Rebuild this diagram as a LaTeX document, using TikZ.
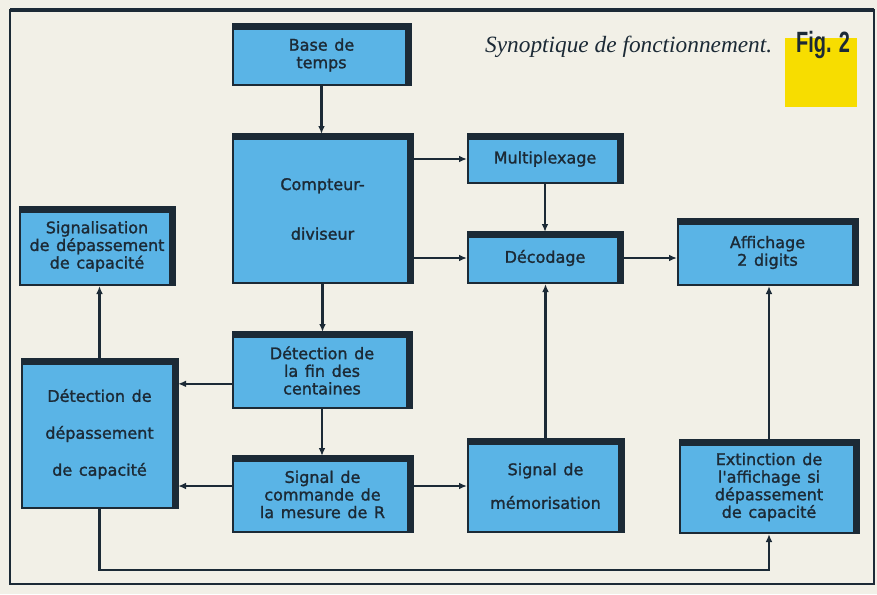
\documentclass[tikz,border=0pt]{standalone}
\usepackage{fontspec}
\setmainfont{DejaVu Sans}
\newfontfamily\blkfont{DejaVu Sans}[FakeBold=1.5,WordSpace=1.3]
\newfontfamily\titlefont{Liberation Serif}
\newfontfamily\figfont{Liberation Sans}
\usetikzlibrary{arrows.meta}
\definecolor{paper}{HTML}{F2F0E7}
\definecolor{boxblue}{HTML}{5AB4E6}
\definecolor{ink}{HTML}{1C2A36}
\definecolor{figyellow}{HTML}{F7DD00}

\begin{document}
\begin{tikzpicture}[x=0.75pt,y=-0.75pt,line width=1.7pt,>={Latex[length=6pt,width=5pt]},
  blk/.style={draw=ink,fill=boxblue,line width=1.5pt,text=ink,align=center,inner sep=0pt,
    font=\blkfont\fontsize{12}{13.2}\selectfont},
  sz/.style 2 args={minimum width=#1*0.75pt,minimum height=#2*0.75pt},
  link/.style={->,draw=ink}]
% ---------- paper and frame ----------
\fill[paper] (0,0) rectangle (877,594);
\draw[ink,line width=1.5pt] (10,10) rectangle (874,584);
\draw[ink,line width=3pt] (10,10) -- (874,10);
% ---------- caption ----------
\node[anchor=base west,inner sep=0pt,text=ink,font=\titlefont\itshape\fontsize{17.5}{17.5}\selectfont] (title) at (484,52) {Synoptique de fonctionnement.};
\node[fill=figyellow,inner sep=0pt,sz={72}{69}] (tag) at (821,72.5) {};
\node[anchor=base west,inner sep=0pt,text=ink,font=\figfont\bfseries\fontsize{22}{22}\selectfont] (fig) at (795,52) {\scalebox{0.68}[1]{Fig. 2}};
% ---------- blocks ----------
\node[blk,sz={177}{60}] (base) at (321.5,55) {Base de\\temps};
\node[blk,sz={179}{148}] (cpt) at (322.5,209) {Compteur-\\[24pt]diviseur};
\node[blk,sz={154}{48}] (mux) at (545,159) {Multiplexage};
\node[blk,sz={154}{50}] (dec) at (545,258) {Décodage};
\node[blk,sz={179}{65}] (aff) at (767.5,252.5) {Affichage\\2 digits};
\node[blk,sz={154}{77}] (sig) at (97,246.5) {Signalisation\\de dépassement\\de capacité};
\node[blk,sz={155}{148}] (dep) at (99.5,434) {Détection de\\[14.5pt]dépassement\\[14.5pt]de capacité};
\node[blk,sz={178}{75}] (fin) at (322,370.5) {Détection de\\la fin des\\centaines};
\node[blk,sz={179}{75}] (cmd) at (322.5,494.5) {Signal de\\commande de\\la mesure de R};
\node[blk,sz={155}{92}] (mem) at (545.5,486) {Signal de\\[12pt]mémorisation};
\node[blk,sz={178}{92}] (ext) at (769,487) {Extinction de\\l'affichage si\\dépassement\\de capacité};
% heavy top and right edges
\foreach \n in {base,cpt,mux,dec,aff,sig,dep,fin,cmd,mem,ext}
  \draw[ink,line width=5pt] ([yshift=-1.75pt]\n.north west) -- ([shift={(-1.75pt,-1.75pt)}]\n.north east) -- ([xshift=-1.75pt]\n.south east);
% ---------- connectors ----------
\draw[link] (base.south) -- (base.south |- cpt.north);
\draw[link] (cpt.east |- mux.west) -- (mux.west);
\draw[link] (cpt.east |- dec.west) -- (dec.west);
\draw[link] (mux.south) -- (dec.north);
\draw[link] (dec.east) -- (dec.east -| aff.west);
\draw[link] (cpt.south) -- (cpt.south |- fin.north);
\draw[link] (fin.south) -- (fin.south |- cmd.north);
\draw[link] ([yshift=-10pt]fin.west) -- ([yshift=-10pt]fin.west -| dep.east);
\draw[link] (cmd.west |- mem.west) -- (dep.east |- mem.west);
\draw[link] (cmd.east |- mem.west) -- (mem.west);
\draw[link] (mem.north) -- (mem.north |- dec.south);
\draw[link] (ext.north) -- (ext.north |- aff.south);
\draw[link] (dep.north) -- (dep.north |- sig.south);
\draw[link] (dep.south) -- ++(0,61) -| (ext.south);
\end{tikzpicture}
\end{document}
